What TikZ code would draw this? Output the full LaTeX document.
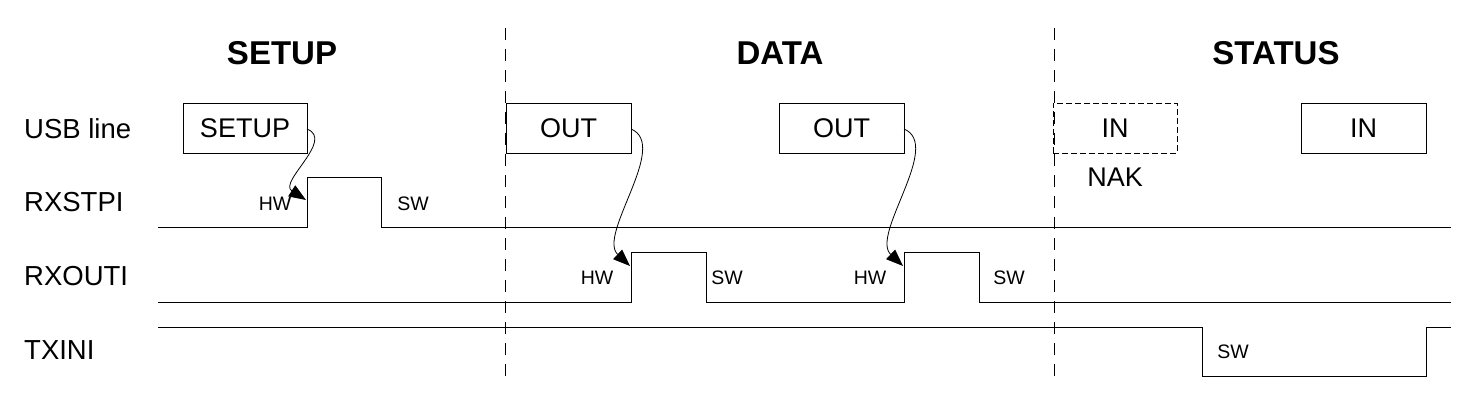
\documentclass[tikz,border=0pt]{standalone}
\usepackage{fontspec}
\setmainfont{Liberation Sans}
\usetikzlibrary{arrows.meta}
\begin{document}
\begin{tikzpicture}[x=1pt,y=-1pt,
  sig/.style={line width=1pt,black},
  phase/.style={line width=1pt,dash pattern=on 12pt off 9pt},
  packet/.style={draw,line width=1pt,minimum width=124pt,minimum height=50pt,inner sep=0pt,font=\fontsize{27}{30}\selectfont},
  nakpacket/.style={packet,dash pattern=on 6pt off 3pt},
  title/.style={font=\fontsize{33}{36}\selectfont\bfseries,anchor=base},
  rowlabel/.style={font=\fontsize{27.5}{30}\selectfont,anchor=base west,inner sep=0pt},
  hwsw/.style={font=\fontsize{19.5}{22}\selectfont,anchor=base,inner sep=0pt},
  flag/.style={line width=0.8pt,-{Triangle[length=17pt,width=13pt]}}]
\useasboundingbox (0,0) rectangle (1474,405);
% phase separators
\coordinate (d1t) at (505.5,28); \coordinate (d1b) at (505.5,377);
\coordinate (d2t) at (1054,28); \coordinate (d2b) at (1054,377);
\draw[phase] (d1t) -- (d1b);
\draw[phase] (d2t) -- (d2b);
% titles
\node[title] (tsetup) at (282,64) {SETUP};
\node[title] (tdata) at (780,64) {DATA};
\node[title] (tstatus) at (1276,64) {STATUS};
% row labels
\node[rowlabel] (lusb) at (24,138) {USB line};
\node[rowlabel] (lrxstpi) at (24,211.5) {RXSTPI};
\node[rowlabel] (lrxouti) at (24,285.5) {RXOUTI};
\node[rowlabel] (ltxini) at (24,359) {TXINI};
% packets
\node[packet] (psetup) at (245,128) {SETUP};
\node[packet,minimum width=125pt] (pout1) at (568.5,128) {OUT};
\node[packet,minimum width=125pt] (pout2) at (841.5,128) {OUT};
\node[nakpacket] (pin1) at (1115,128) {IN};
\node[packet,minimum width=125pt] (pin2) at (1363.5,128) {IN};
\node[font=\fontsize{27}{30}\selectfont,inner sep=0pt] (nak) at (1115,177) {NAK};
% RXSTPI waveform
\coordinate (s0) at (158,227);
\coordinate (srise) at (307,227);
\coordinate (shigh) at (307,177);
\coordinate (sfallt) at (381,177);
\coordinate (sfallb) at (381,227);
\coordinate (send) at (1451,227);
\draw[sig] (s0) -- (srise) -- (shigh) -- (sfallt) -- (sfallb) -- (send);
% RXOUTI waveform
\coordinate (o0) at (158,302);
\coordinate (or1b) at (631,302); \coordinate (or1t) at (631,252);
\coordinate (of1t) at (706,252); \coordinate (of1b) at (706,302);
\coordinate (or2b) at (904,302); \coordinate (or2t) at (904,252);
\coordinate (of2t) at (979,252); \coordinate (of2b) at (979,302);
\coordinate (oend) at (1451,302);
\draw[sig] (o0) -- (or1b) -- (or1t) -- (of1t) -- (of1b) -- (or2b) -- (or2t) -- (of2t) -- (of2b) -- (oend);
% TXINI waveform
\coordinate (t0) at (158,327);
\coordinate (tf1t) at (1202,327); \coordinate (tf1b) at (1202,376);
\coordinate (tr1b) at (1426,376); \coordinate (tr1t) at (1426,327);
\coordinate (tend) at (1451,327);
\draw[sig] (t0) -- (tf1t) -- (tf1b) -- (tr1b) -- (tr1t) -- (tend);
% HW / SW labels
\node[hwsw] (hw1) at (275,210) {HW};
\node[hwsw] (sw1) at (413,210) {SW};
\node[hwsw] (hw2) at (597,284) {HW};
\node[hwsw] (sw2) at (727,284) {SW};
\node[hwsw] (hw3) at (870,284) {HW};
\node[hwsw] (sw3) at (1009,284) {SW};
\node[hwsw] (sw4) at (1233,358) {SW};
% flag-setting arrows
\coordinate (a1s) at (307,129); \coordinate (a1e) at (306,200);
\coordinate (a2s) at (631,129); \coordinate (a2e) at (630,266);
\coordinate (a3s) at (904,129); \coordinate (a3e) at (903,266);
\draw[flag] (a1s) .. controls (335,140) and (278,182) .. (a1e);
\draw[flag] (a2s) .. controls (670,145) and (597,235) .. (a2e);
\draw[flag] (a3s) .. controls (943,145) and (870,235) .. (a3e);
\end{tikzpicture}
\end{document}
